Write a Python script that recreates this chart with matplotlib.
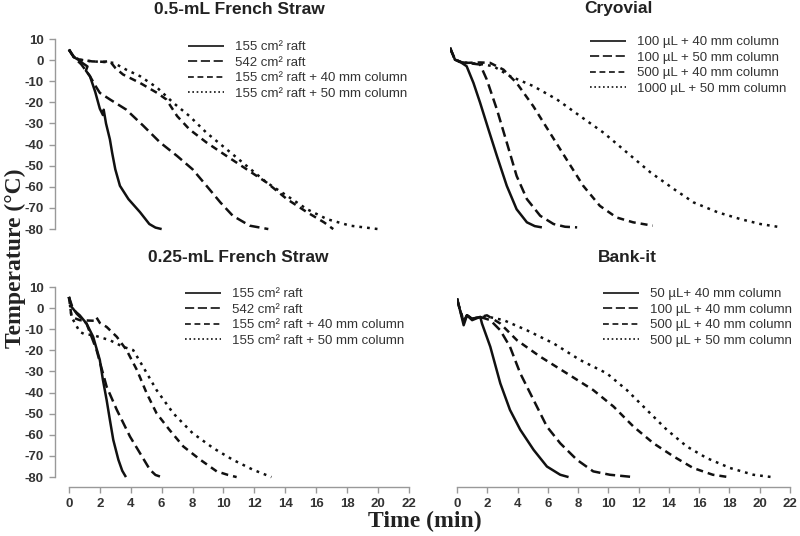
import matplotlib
matplotlib.use("Agg")
import matplotlib.pyplot as plt

# ---- 0.5-mL French Straw ----
fs05_titles = ["155 cm² raft", "542 cm² raft",
               "155 cm² raft + 40 mm column", "155 cm² raft + 50 mm column"]
fs05_a_t = [0.0, 0.3, 0.6, 0.9, 1.2, 1.1, 1.36, 1.7, 2.0, 2.2, 2.25, 2.4, 2.65, 2.8, 3.0, 3.3, 3.85, 4.6, 5.2, 5.6, 6.0]
fs05_a_y = [5.0, 1.5, 0.2, -1.5, -3.0, -5.0, -7.6, -15.0, -23.0, -26.0, -23.5, -30.0, -37.5, -44.0, -51.7, -59.5, -65.8, -72.0, -77.6, -79.3, -80.0]
fs05_b_t = [0.0, 0.4, 0.8, 1.36, 1.7, 2.0, 2.65, 3.7, 4.8, 5.9, 7.0, 8.0, 8.9, 9.8, 10.6, 11.7, 12.9]
fs05_b_y = [5.0, 0.8, -2.0, -7.6, -12.0, -15.5, -18.6, -23.4, -31.0, -39.0, -45.4, -51.7, -59.5, -67.4, -73.7, -78.4, -80.0]
fs05_c_t = [0.0, 0.3, 0.7, 1.5, 2.2, 2.65, 3.0, 3.5, 4.6, 5.7, 6.3, 7.0, 7.8, 8.9, 10.2, 11.5, 12.8, 14.1, 15.4, 16.5, 17.1]
fs05_c_y = [5.0, 1.5, 0.2, -0.6, -0.8, -0.5, -3.7, -6.8, -10.8, -15.5, -18.6, -26.5, -32.8, -39.0, -45.4, -51.7, -58.0, -65.8, -72.0, -76.8, -80.0]
fs05_d_t = [0.0, 0.3, 0.7, 1.5, 2.3, 2.9, 3.7, 4.6, 5.7, 6.75, 7.8, 8.9, 10.2, 11.5, 12.8, 14.1, 15.4, 16.7, 18.2, 20.0]
fs05_d_y = [5.0, 1.5, 0.2, -0.6, -0.9, -1.3, -4.5, -7.6, -13.0, -20.2, -26.5, -34.4, -42.2, -50.1, -58.0, -64.2, -70.6, -75.3, -78.4, -80.0]

# ---- Cryovial ----
cryo_titles = ["100 µL + 40 mm column", "100 µL + 50 mm column",
               "500 µL + 40 mm column", "1000 µL + 50 mm column"]
cryo_a_t = [0.0, 0.33, 0.77, 1.1, 1.55, 1.99, 2.54, 3.1, 3.75, 4.4, 5.08, 5.6, 6.07]
cryo_a_y = [5.8, 0.2, -1.3, -2.9, -10.8, -20.2, -32.8, -45.4, -59.5, -70.6, -76.8, -78.6, -79.2]
cryo_b_t = [0.0, 0.33, 0.77, 1.1, 1.99, 2.43, 3.1, 3.75, 4.4, 5.08, 5.96, 6.84, 7.6, 8.4]
cryo_b_y = [5.8, 0.2, -1.0, -1.3, -2.1, -9.2, -23.4, -39.0, -54.8, -65.8, -73.7, -77.6, -78.9, -79.2]
cryo_c_t = [0.0, 0.33, 0.77, 1.1, 2.0, 2.65, 3.53, 4.4, 5.5, 6.6, 7.7, 8.8, 9.9, 11.0, 12.1, 13.4]
cryo_c_y = [5.8, 0.2, -1.0, -1.3, -1.1, -1.3, -4.5, -10.8, -21.8, -34.4, -47.0, -59.5, -69.0, -74.5, -76.8, -78.4]
cryo_d_t = [0.0, 0.33, 0.77, 1.1, 2.0, 2.87, 3.97, 5.5, 7.06, 8.6, 10.15, 11.7, 13.25, 14.8, 16.1, 17.7, 19.2, 20.5, 21.9]
cryo_d_y = [5.8, 0.2, -1.0, -1.3, -1.8, -2.9, -7.6, -12.3, -18.6, -26.5, -34.4, -43.8, -53.2, -61.1, -67.4, -72.1, -75.3, -77.6, -79.2]

# ---- 0.25-mL French Straw ----
fs025_titles = fs05_titles
fs025_a_t = [0.0, 0.17, 0.4, 0.7, 1.14, 1.57, 2.0, 2.2, 2.44, 2.65, 2.87, 3.2, 3.45, 3.69]
fs025_a_y = [5.3, 0.6, -1.5, -3.4, -7.3, -13.6, -24.6, -34.0, -43.5, -52.9, -62.4, -71.8, -77.0, -80.0]
fs025_b_t = [0.0, 0.2, 0.5, 1.14, 1.79, 2.44, 3.1, 3.95, 4.6, 5.24, 5.6, 6.0]
fs025_b_y = [5.3, 1.0, -2.6, -7.3, -19.9, -37.2, -48.2, -60.8, -68.7, -76.5, -79.0, -80.0]
fs025_c_t = [0.0, 0.17, 0.7, 1.3, 1.7, 1.79, 2.0, 2.44, 3.1, 3.73, 4.4, 5.03, 5.67, 6.5, 7.4, 8.5, 9.56, 10.3, 10.85]
fs025_c_y = [5.3, -4.2, -5.7, -5.9, -6.0, -4.5, -7.0, -8.9, -13.6, -19.9, -29.3, -40.3, -49.8, -57.6, -65.5, -71.8, -77.3, -79.0, -80.0]
fs025_d_t = [0.0, 0.17, 0.7, 1.0, 1.57, 2.65, 3.5, 4.16, 4.8, 5.67, 6.75, 8.0, 9.34, 10.6, 11.9, 13.1]
fs025_d_y = [5.3, -4.2, -11.2, -12.3, -12.8, -15.2, -18.3, -19.9, -27.8, -38.8, -49.8, -59.2, -66.3, -71.8, -76.5, -80.0]

# ---- Bank-it ----
bank_titles = ["50 µL+ 40 mm column", "100 µL + 40 mm column",
               "500 µL + 40 mm column", "500 µL + 50 mm column"]
bank_a_t = [0.0, 0.2, 0.44, 0.66, 1.0, 1.3, 1.54, 1.65, 2.2, 2.86, 3.5, 4.18, 5.06, 5.94, 6.82, 7.37]
bank_a_y = [4.5, -1.0, -8.1, -3.4, -5.7, -4.8, -4.2, -7.3, -18.3, -35.6, -48.2, -57.6, -67.1, -75.0, -78.9, -80.0]
bank_b_t = [0.0, 0.2, 0.44, 0.66, 1.0, 1.54, 2.2, 2.86, 3.5, 4.18, 5.06, 5.94, 6.82, 7.92, 9.0, 10.1, 11.66]
bank_b_y = [4.5, -1.0, -6.5, -3.4, -5.0, -4.2, -5.7, -10.5, -18.3, -30.9, -43.5, -56.1, -64.0, -71.8, -77.3, -78.9, -80.0]
bank_c_t = [0.0, 0.2, 0.44, 0.66, 1.0, 1.54, 1.98, 2.86, 3.96, 5.5, 7.26, 9.0, 10.34, 11.66, 12.98, 14.3, 15.6, 16.9, 17.93]
bank_c_y = [4.5, -1.0, -6.0, -3.4, -5.0, -4.2, -3.4, -7.3, -15.2, -23.0, -30.9, -38.8, -46.6, -56.1, -64.0, -70.2, -75.7, -78.9, -80.0]
bank_d_t = [0.0, 0.2, 0.44, 0.66, 1.0, 1.54, 2.0, 3.08, 4.62, 6.38, 8.14, 9.9, 11.22, 12.54, 13.86, 15.18, 16.5, 18.04, 19.58, 20.8]
bank_d_y = [4.5, -1.0, -6.0, -3.4, -5.0, -4.2, -4.0, -5.7, -10.5, -16.7, -24.6, -30.9, -38.8, -48.2, -57.6, -65.5, -71.0, -75.7, -78.9, -80.0]

y_ticks = [10, 0, -10, -20, -30, -40, -50, -60, -70, -80]
x_ticks = [0, 2, 4, 6, 8, 10, 12, 14, 16, 18, 20, 22]

W, H = 800, 536
LINE = '#111111'
AXC = '#999999'
TXT = '#333333'
# dash patterns for the curves (in linewidth units) and for legend handles
styles = [(0, ()), (0, (4.0, 2.0)), (0, (2.8, 2.0)), (0, (1.1, 2.0))]
leg_dashes = [None, (5.5, 2.2), (3.5, 2.2), (1.0, 1.6)]


def box(x0, x1, ytop, ybot):
    return [x0 / W, (H - ybot) / H, (x1 - x0) / W, (ybot - ytop) / H]


fig = plt.figure(figsize=(8, 5.36), dpi=100)
plt.rcParams['font.family'] = ['Liberation Sans', 'DejaVu Sans']

panels = [
    ("0.5-mL French Straw", fs05_titles,
     [(fs05_a_t, fs05_a_y), (fs05_b_t, fs05_b_y), (fs05_c_t, fs05_c_y), (fs05_d_t, fs05_d_y)],
     box(55, 409, 39, 239), (-0.9, 22), True, False, (188, 41), (239, 10)),
    ("Cryovial", cryo_titles,
     [(cryo_a_t, cryo_a_y), (cryo_b_t, cryo_b_y), (cryo_c_t, cryo_c_y), (cryo_d_t, cryo_d_y)],
     box(450, 783, 39, 239), (0, 22), False, False, (590, 36), (618, 9)),
    ("0.25-mL French Straw", fs025_titles,
     [(fs025_a_t, fs025_a_y), (fs025_b_t, fs025_b_y), (fs025_c_t, fs025_c_y), (fs025_d_t, fs025_d_y)],
     box(55, 409, 287, 487), (-0.9, 22), True, True, (185, 288), (238, 258)),
    ("Bank-it", bank_titles,
     [(bank_a_t, bank_a_y), (bank_b_t, bank_b_y), (bank_c_t, bank_c_y), (bank_d_t, bank_d_y)],
     box(457, 790, 287, 487), (0, 22), False, True, (603, 288), (627, 258)),
]

for title, labels, series, pos, xlim, show_y, show_x, leg_xy, title_xy in panels:
    ax = fig.add_axes(pos)
    for (t, y), ls, lab in zip(series, styles, labels):
        ax.plot(t, y, color=LINE, lw=1.8, linestyle=ls, label=lab)
    ax.set_xlim(*xlim)
    ax.set_ylim(-84.7, 10)
    for s in ['top', 'right']:
        ax.spines[s].set_visible(False)
    ax.spines['left'].set_visible(show_y)
    ax.spines['bottom'].set_visible(show_x)
    ax.spines['left'].set_bounds(-80, 10)
    ax.spines['bottom'].set_bounds(0, 22)
    for s in ['left', 'bottom']:
        ax.spines[s].set_color(AXC)
        ax.spines[s].set_linewidth(1.0)
    if show_y:
        ax.set_yticks(y_ticks)
        ax.set_yticklabels([str(v) for v in y_ticks], fontweight='bold', color=TXT, fontsize=9.5)
    else:
        ax.set_yticks([])
    if show_x:
        ax.set_xticks(x_ticks)
        ax.set_xticklabels([str(v) for v in x_ticks], fontweight='bold', color=TXT, fontsize=9.5)
    else:
        ax.set_xticks([])
    ax.tick_params(colors=AXC, labelcolor=TXT, length=4, width=1.0, pad=4)
    ax.patch.set_alpha(0)

    leg = ax.legend(loc='upper left', bbox_to_anchor=(leg_xy[0] / W, 1 - leg_xy[1] / H),
                    bbox_transform=fig.transFigure, frameon=False, fontsize=9.5,
                    handlelength=2.75, handletextpad=0.8, labelspacing=0.25,
                    borderpad=0, borderaxespad=0)
    for txt in leg.get_texts():
        txt.set_color(TXT)
    for h, d in zip(leg.get_lines(), leg_dashes):
        h.set_linewidth(1.2)
        if d is not None:
            h.set_dashes(d)

    fig.text(title_xy[0] / W, 1 - title_xy[1] / H, title, ha='center', va='center',
             fontsize=12.5, fontweight='bold', color='#222222')

fig.text(15 / W, 1 - 258 / H, "Temperature (°C)", rotation=90, ha='center', va='center',
         fontsize=17, fontweight='bold', family='Liberation Serif', color='#222222')
fig.text(425 / W, 1 - 521 / H, "Time (min)", ha='center', va='center',
         fontsize=17, fontweight='bold', family='Liberation Serif', color='#222222')

fig.savefig('out.png', dpi=100)
